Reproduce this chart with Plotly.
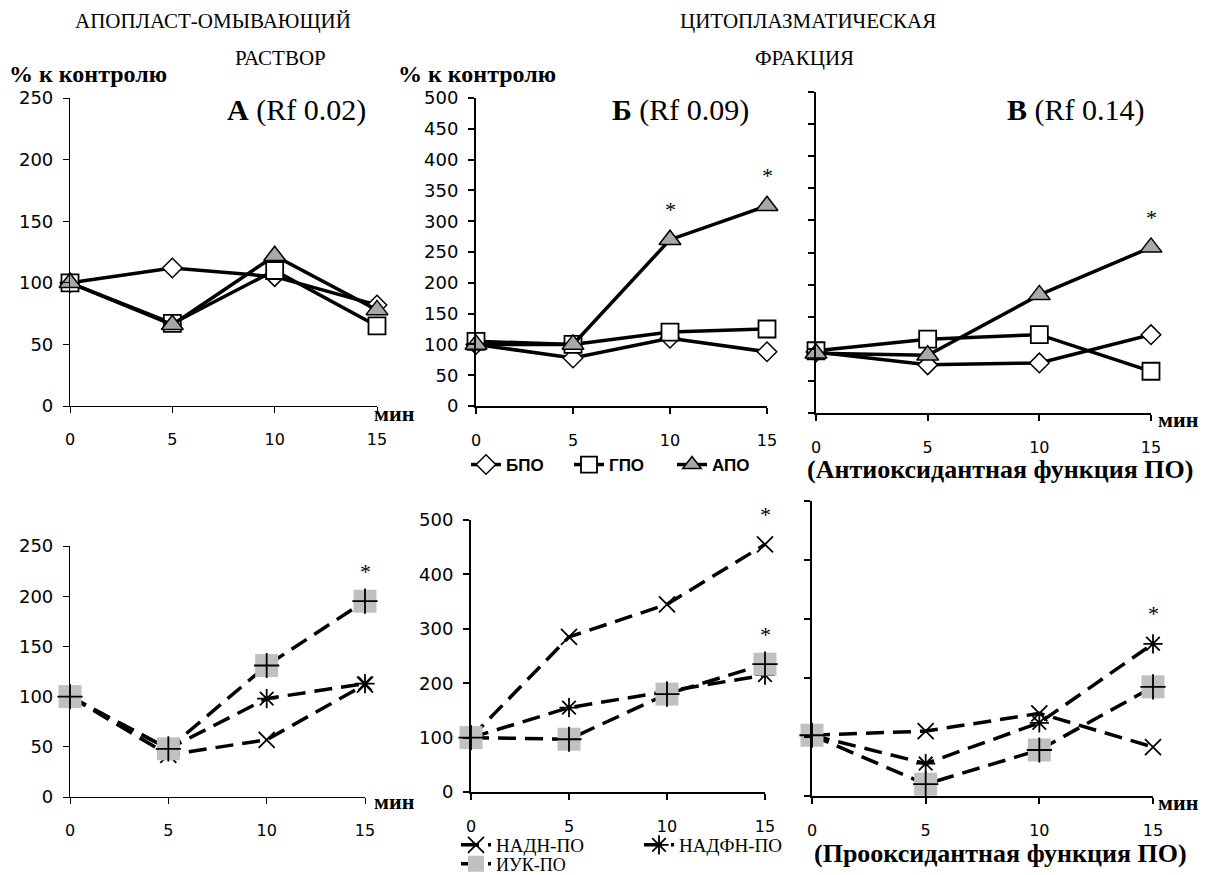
import plotly.graph_objects as go

W, H = 1213, 875

# ---------------- data ----------------
minutes = [0, 5, 10, 15]

# Top row (antioxidant function): panels A, Б, В
bpo_A = [100, 112, 105, 82]
gpo_A = [100, 67, 110, 65]
apo_A = [100, 66, 122, 78]

bpo_B = [100, 78, 110, 88]
gpo_B = [105, 100, 120, 125]
apo_B = [100, 100, 270, 325]

bpo_V = [95, 75, 78, 122]
gpo_V = [97, 115, 122, 65]
apo_V = [93, 90, 184, 258]

# Bottom row (prooxidant function)
nadh_A = [100, 42, 57, 112]
nadph_A = [100, 48, 98, 113]
iuk_A = [100, 48, 131, 195]

nadh_B = [100, 285, 345, 455]
nadph_B = [100, 155, 185, 215]
iuk_B = [100, 97, 180, 235]

nadh_V = [103, 110, 140, 83]
nadph_V = [103, 55, 124, 258]
iuk_V = [103, 20, 78, 185]

# significance marks (panel index, x, value)
sig_marks = [(2, 10, 270), (2, 15, 325), (3, 15, 258),
             (4, 15, 195), (5, 15, 455), (5, 15, 235), (6, 15, 258)]

xtick_vals = [0, 5, 10, 15]

# ---------------- layout helpers ----------------
def xd(a, b):
    return [a / W, b / W]

def yd(top, bottom):
    return [1 - bottom / H, 1 - top / H]

panels = {
    1: dict(x=xd(70, 377), y=yd(98, 406), yr=250, dt=50, labels=True, lw=1.2),
    2: dict(x=xd(476, 767), y=yd(98, 406), yr=500, dt=50, labels=True, lw=2),
    3: dict(x=xd(816, 1151), y=yd(92, 413), yr=500, dt=50, labels=False, lw=2),
    4: dict(x=xd(70, 365), y=yd(546, 797), yr=250, dt=50, labels=True, lw=1.2),
    5: dict(x=xd(471, 765), y=yd(520, 792), yr=500, dt=100, labels=True, lw=2),
    6: dict(x=xd(812, 1153), y=yd(501, 796), yr=500, dt=100, labels=False, lw=2),
}

SANS = "Liberation Sans"
WIDE = "DejaVu Sans"
SERIF = "Liberation Serif"

fig = go.Figure()

def ax(i):
    return ("x" if i == 1 else f"x{i}"), ("y" if i == 1 else f"y{i}")

# ---------------- top row traces ----------------
top_series = [
    ("БПО", dict(symbol="diamond", size=15, color="white", line=dict(color="black", width=1.5))),
    ("ГПО", dict(symbol="square", size=17, color="white", line=dict(color="black", width=1.8))),
    ("АПО", dict(symbol="triangle-up", size=19, color="#a8a8a8", line=dict(color="black", width=1.5))),
]
top_data = {1: [bpo_A, gpo_A, apo_A], 2: [bpo_B, gpo_B, apo_B], 3: [bpo_V, gpo_V, apo_V]}

for p, vals in top_data.items():
    xa, ya = ax(p)
    for (name, mk), v in zip(top_series, vals):
        fig.add_trace(go.Scatter(
            x=minutes, y=v, mode="lines+markers", name=name,
            line=dict(color="black", width=3.5), marker=mk,
            xaxis=xa, yaxis=ya, cliponaxis=False,
            showlegend=(p == 2), legend="legend"))

# ---------------- bottom row traces ----------------
DASH = "18px,9px"
bot_data = {4: [nadh_A, nadph_A, iuk_A], 5: [nadh_B, nadph_B, iuk_B], 6: [nadh_V, nadph_V, iuk_V]}
for p, (nadh, nadph, iuk) in bot_data.items():
    xa, ya = ax(p)
    show = (p == 5)
    fig.add_trace(go.Scatter(
        x=minutes, y=nadh, mode="lines+markers", name="НАДН-ПО",
        line=dict(color="black", width=3.5, dash=DASH),
        marker=dict(symbol="x-thin-open", size=16, color="black", line=dict(color="black", width=1.8)),
        xaxis=xa, yaxis=ya, cliponaxis=False, showlegend=show, legend="legend2"))
    fig.add_trace(go.Scatter(
        x=minutes, y=nadph, mode="lines+markers", name="НАДФН-ПО",
        line=dict(color="black", width=3.5, dash=DASH),
        marker=dict(symbol="asterisk-open", size=16, color="black", line=dict(color="black", width=1.8)),
        xaxis=xa, yaxis=ya, cliponaxis=False, showlegend=show, legend="legend2"))
    fig.add_trace(go.Scatter(
        x=minutes, y=iuk, mode="lines+markers", name="ИУК-ПО",
        line=dict(color="black", width=3.5, dash=DASH),
        marker=dict(symbol="square", size=23, color="#c0c0c0", line=dict(width=0)),
        xaxis=xa, yaxis=ya, cliponaxis=False, showlegend=show, legend="legend3"))
    fig.add_trace(go.Scatter(
        x=minutes, y=iuk, mode="markers", name="ИУК-ПО",
        marker=dict(symbol="cross-thin-open", size=18, color="black", line=dict(color="black", width=1.8)),
        xaxis=xa, yaxis=ya, cliponaxis=False, showlegend=False))

# ---------------- axes ----------------
layout = {}
for i, P in panels.items():
    xk = "xaxis" if i == 1 else f"xaxis{i}"
    yk = "yaxis" if i == 1 else f"yaxis{i}"
    xa, ya = ax(i)
    layout[xk] = dict(domain=P["x"], anchor=ya, range=[0, 15], tickvals=xtick_vals,
                      showline=True, linecolor="black", linewidth=P["lw"],
                      ticks="outside", ticklen=6, tickwidth=P["lw"], tickcolor="black",
                      showgrid=False, zeroline=False, ticklabelstandoff=13,
                      tickfont=dict(family=WIDE, size=16, color="black"), fixedrange=True)
    layout[yk] = dict(domain=P["y"], anchor=xa, range=[0, P["yr"]], dtick=P["dt"], tick0=0,
                      showline=True, linecolor="black", linewidth=P["lw"],
                      ticks="outside", ticklen=6, tickwidth=P["lw"], tickcolor="black",
                      showgrid=False, zeroline=False, showticklabels=P["labels"],
                      ticklabelstandoff=6,
                      tickfont=dict(family=WIDE, size=18, color="black"), fixedrange=True)

fig.update_layout(**layout)

# ---------------- texts ----------------
ann = []
def txt(x, y, s, size, family=SERIF, xanchor="center", bold=False):
    ann.append(dict(x=x / W, y=1 - y / H, xref="paper", yref="paper", text=(f"<b>{s}</b>" if bold else s),
                    showarrow=False, xanchor=xanchor, yanchor="middle",
                    font=dict(family=family, size=size, color="black")))

txt(213, 21, "АПОПЛАСТ-ОМЫВАЮЩИЙ", 21)
txt(280, 58, "РАСТВОР", 21)
txt(808, 21, "ЦИТОПЛАЗМАТИЧЕСКАЯ", 21)
txt(805, 58, "ФРАКЦИЯ", 21)
txt(7, 74, "% к контролю", 24, xanchor="left", bold=True)
txt(396, 74, "% к контролю", 24, xanchor="left", bold=True)
txt(296, 110, "<b>А</b> (Rf 0.02)", 30)
txt(680, 110, "<b>Б</b> (Rf 0.09)", 30)
txt(1076, 110, "<b>В</b> (Rf 0.14)", 30)
txt(372, 414, "мин", 22, xanchor="left", bold=True)
txt(1156, 419, "мин", 22, xanchor="left", bold=True)
txt(372, 801, "мин", 22, xanchor="left", bold=True)
txt(1156, 802, "мин", 22, xanchor="left", bold=True)
txt(1000, 469, "(Антиоксидантная функция ПО)", 26, bold=True)
txt(1000, 853, "(Прооксидантная функция ПО)", 26, bold=True)

for p, xv, yv in sig_marks:
    xa, ya = ax(p)
    ann.append(dict(x=xv, y=yv, xref=xa, yref=ya, text="*", showarrow=False,
                    yshift=30, font=dict(family=SERIF, size=22, color="black")))

fig.update_layout(
    annotations=ann,
    width=W, height=H, margin=dict(l=0, r=0, t=0, b=0, autoexpand=False),
    paper_bgcolor="white", plot_bgcolor="white",
    legend=dict(orientation="h", x=466 / W, y=1 - 465 / H, xanchor="left", yanchor="middle",
                traceorder="normal", entrywidth=58, entrywidthmode="pixels",
                font=dict(family=SANS, size=17, color="black", weight="bold"),
                bgcolor="rgba(0,0,0,0)", tracegroupgap=0),
    legend2=dict(orientation="h", x=456 / W, y=1 - 845 / H, xanchor="left", yanchor="middle",
                 traceorder="normal",
                 font=dict(family=SERIF, size=19, color="black"), bgcolor="rgba(0,0,0,0)",
                 entrywidth=138, entrywidthmode="pixels", tracegroupgap=0),
    legend3=dict(orientation="h", x=456 / W, y=1 - 864 / H, xanchor="left", yanchor="middle",
                 traceorder="normal",
                 font=dict(family=SERIF, size=18, color="black"), bgcolor="rgba(0,0,0,0)",
                 tracegroupgap=0),
    showlegend=True,
)

fig.write_html("out.html", config={"displayModeBar": False},
               post_script="document.body.style.margin='0px';document.body.style.overflow='hidden';")
